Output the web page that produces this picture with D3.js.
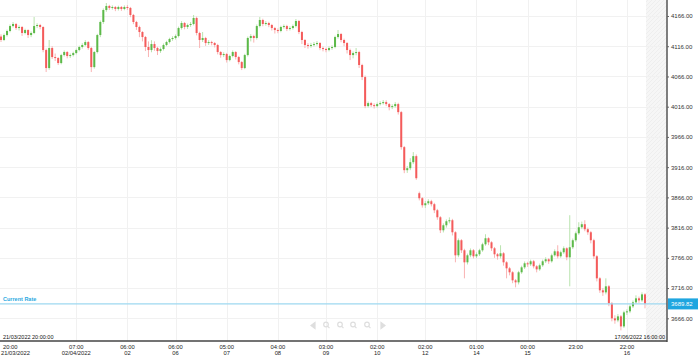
<!DOCTYPE html>
<html lang="en">
<head>
    <meta charset="UTF-8">
    <title>Candlestick Chart</title>
    <script src="https://cdn.jsdelivr.net/npm/d3@7/dist/d3.min.js"></script>
    <style>
        body { margin: 0; background: #fff; }
        text { font-family: "Liberation Sans", Arial, sans-serif; }
    </style>
</head>
<body>
<svg id="main" width="699" height="356"></svg>
<script>
    // candle data (index order)
    const opens = [
        4132.0, 4126.3, 4134.5, 4141.2, 4149.4, 4152.8, 4146.1, 4147.8, 4137.9, 4142.8,
        4134.5, 4137.9, 4149.4, 4151.1, 4147.8, 4109.7, 4079.9, 4113.0, 4098.1, 4096.5,
        4088.2, 4101.4, 4106.4, 4099.8, 4101.4, 4104.7, 4109.7, 4114.7, 4118.0, 4122.9,
        4113.0, 4081.5, 4106.4, 4134.5, 4156.1, 4175.9, 4182.6, 4179.3, 4180.9, 4177.6,
        4180.9, 4177.6, 4180.9, 4179.3, 4167.7, 4156.1, 4147.8, 4139.5, 4131.2, 4114.7,
        4109.7, 4119.6, 4113.0, 4108.0, 4111.4, 4118.0, 4122.9, 4127.9, 4129.6, 4132.9,
        4146.1, 4154.4, 4147.8, 4151.1, 4152.8, 4162.7, 4137.9, 4126.3, 4129.6, 4121.3,
        4122.9, 4121.3, 4118.0, 4106.4, 4101.4, 4103.1, 4093.1, 4099.8, 4106.4, 4098.1,
        4089.8, 4079.9, 4101.4, 4129.6, 4132.9, 4129.6, 4149.4, 4159.4, 4152.8, 4154.4,
        4151.1, 4146.1, 4142.8, 4141.2, 4147.8, 4149.4, 4144.5, 4146.1, 4149.4, 4157.7,
        4139.5, 4126.3, 4118.0, 4116.3, 4118.0, 4119.6, 4121.3, 4113.0, 4111.4, 4109.7,
        4113.0, 4114.7, 4131.2, 4136.2, 4126.3, 4121.3, 4109.7, 4101.4, 4104.7, 4106.4,
        4084.9, 4065.0, 4017.0, 4021.9, 4018.6, 4017.0, 4020.3, 4021.9, 4023.6, 4020.3,
        4015.3, 4017.0, 4020.3, 4007.0, 3949.1, 3911.0, 3914.3, 3924.2, 3934.2, 3872.9,
        3864.6, 3853.0, 3856.3, 3859.6, 3854.7, 3844.7, 3833.1, 3811.6, 3819.9, 3826.5,
        3828.2, 3808.3, 3770.2, 3795.1, 3778.5, 3758.6, 3770.2, 3778.5, 3768.6, 3771.9,
        3778.5, 3788.4, 3798.4, 3791.7, 3781.8, 3771.9, 3768.6, 3773.5, 3758.6, 3748.7,
        3742.1, 3728.8, 3725.5, 3742.1, 3750.3, 3757.0, 3755.3, 3760.3, 3752.0, 3747.0,
        3753.7, 3760.3, 3763.6, 3760.3, 3770.2, 3776.8, 3768.6, 3775.2, 3781.8, 3766.9,
        3783.5, 3795.1, 3806.6, 3816.6, 3821.6, 3813.3, 3808.3, 3795.1, 3768.6, 3732.1,
        3712.3, 3708.9, 3718.9, 3690.7, 3665.9, 3662.6, 3669.2, 3652.6, 3675.8, 3677.5,
        3685.8, 3692.4, 3699.0, 3695.7, 3705.6];

    const highs = [
        4135.8, 4137.0, 4143.5, 4152.0, 4156.1, 4154.5, 4150.5, 4149.5, 4145.0, 4144.0,
        4140.5, 4164.4, 4154.0, 4153.0, 4149.0, 4112.0, 4126.3, 4116.0, 4104.0, 4098.0,
        4103.5, 4109.0, 4108.0, 4104.0, 4107.0, 4112.0, 4117.0, 4121.0, 4126.0, 4124.5,
        4115.0, 4108.0, 4136.5, 4158.5, 4178.5, 4187.5, 4184.5, 4183.5, 4182.5, 4183.0,
        4182.5, 4183.5, 4184.0, 4181.0, 4169.5, 4158.0, 4150.0, 4141.0, 4133.0, 4124.0,
        4126.0, 4124.0, 4115.0, 4114.0, 4120.5, 4125.0, 4130.0, 4132.5, 4135.5, 4148.5,
        4157.5, 4156.0, 4153.5, 4156.0, 4167.7, 4165.0, 4140.0, 4139.5, 4131.5, 4126.0,
        4125.0, 4123.0, 4120.0, 4108.0, 4106.0, 4105.0, 4102.0, 4109.0, 4108.0, 4100.0,
        4091.5, 4103.5, 4132.0, 4136.0, 4135.0, 4152.0, 4164.4, 4161.5, 4157.5, 4156.5,
        4153.0, 4148.0, 4145.5, 4150.0, 4152.0, 4151.5, 4149.0, 4152.0, 4161.0, 4159.5,
        4141.5, 4128.0, 4121.0, 4121.5, 4123.0, 4124.5, 4123.0, 4115.5, 4113.5, 4116.0,
        4117.5, 4133.5, 4142.8, 4138.0, 4128.5, 4123.0, 4112.0, 4107.5, 4113.0, 4108.5,
        4087.0, 4067.5, 4024.5, 4024.0, 4021.5, 4023.0, 4025.0, 4027.0, 4026.5, 4022.0,
        4020.0, 4023.5, 4022.5, 4009.0, 3951.0, 3918.0, 3930.8, 3940.9, 3937.0, 3875.5,
        3866.5, 3860.0, 3863.0, 3862.0, 3857.0, 3847.0, 3835.0, 3823.0, 3829.5, 3833.0,
        3830.5, 3810.0, 3798.0, 3797.0, 3781.0, 3773.0, 3781.5, 3780.5, 3775.0, 3781.0,
        3791.0, 3805.0, 3800.0, 3793.5, 3784.0, 3774.0, 3786.8, 3775.5, 3760.5, 3751.0,
        3744.0, 3731.0, 3744.5, 3753.0, 3760.0, 3759.5, 3763.0, 3762.5, 3754.0, 3756.5,
        3763.0, 3767.0, 3765.5, 3773.0, 3780.0, 3786.8, 3778.0, 3785.0, 3783.5, 3836.5,
        3798.0, 3809.5, 3824.9, 3826.0, 3828.2, 3816.0, 3810.5, 3797.5, 3770.5, 3734.0,
        3716.0, 3732.1, 3721.0, 3693.0, 3671.0, 3673.0, 3671.5, 3678.5, 3681.0, 3688.5,
        3695.5, 3704.0, 3702.0, 3709.0, 3707.5];

    const lows = [
        4123.0, 4124.5, 4132.0, 4139.0, 4147.0, 4143.0, 4142.0, 4133.0, 4135.5, 4129.6,
        4131.0, 4136.0, 4146.0, 4144.0, 4106.0, 4073.3, 4077.0, 4095.0, 4091.5, 4084.9,
        4086.0, 4099.0, 4096.0, 4096.5, 4099.0, 4102.5, 4107.5, 4112.0, 4116.0, 4110.0,
        4073.3, 4079.0, 4104.0, 4131.0, 4153.0, 4173.0, 4176.0, 4176.5, 4174.0, 4175.0,
        4174.5, 4175.5, 4176.0, 4164.0, 4152.5, 4143.0, 4131.0, 4124.0, 4108.0, 4098.1,
        4106.0, 4108.5, 4101.4, 4105.0, 4109.0, 4116.0, 4120.5, 4125.0, 4127.0, 4130.5,
        4143.5, 4144.0, 4144.5, 4148.0, 4150.5, 4134.0, 4113.0, 4123.0, 4116.5, 4118.0,
        4117.5, 4114.0, 4102.5, 4097.0, 4098.0, 4089.0, 4091.0, 4097.5, 4094.0, 4086.0,
        4076.6, 4078.0, 4099.0, 4124.0, 4122.0, 4127.0, 4147.0, 4149.0, 4150.0, 4147.5,
        4142.0, 4137.0, 4137.5, 4139.0, 4145.0, 4141.0, 4142.0, 4143.5, 4147.0, 4136.0,
        4119.6, 4113.0, 4112.0, 4113.5, 4115.5, 4117.0, 4109.5, 4107.5, 4106.0, 4107.5,
        4110.0, 4112.5, 4128.5, 4122.5, 4116.0, 4104.0, 4093.1, 4096.0, 4101.0, 4080.0,
        4060.0, 4013.5, 4014.5, 4015.5, 4013.0, 4014.5, 4018.0, 4019.5, 4017.0, 4010.0,
        4012.0, 4014.5, 4003.0, 3945.0, 3906.0, 3906.5, 3911.0, 3921.0, 3895.0, 3861.0,
        3849.0, 3848.5, 3853.5, 3851.0, 3840.0, 3829.0, 3807.0, 3808.0, 3816.0, 3823.0,
        3803.0, 3758.6, 3767.0, 3774.0, 3732.1, 3755.0, 3767.0, 3765.0, 3765.5, 3769.0,
        3776.0, 3786.0, 3787.0, 3777.5, 3766.0, 3763.0, 3765.0, 3753.0, 3732.1, 3737.0,
        3724.0, 3717.2, 3722.0, 3739.5, 3747.5, 3751.0, 3752.5, 3748.5, 3742.0, 3744.5,
        3751.0, 3757.5, 3756.0, 3758.0, 3768.0, 3765.0, 3766.0, 3772.5, 3762.0, 3718.9,
        3780.5, 3792.5, 3804.0, 3813.5, 3810.0, 3804.0, 3790.0, 3764.0, 3727.0, 3708.0,
        3703.0, 3705.5, 3686.0, 3661.0, 3657.0, 3659.5, 3646.0, 3650.0, 3671.5, 3674.5,
        3683.0, 3690.0, 3691.5, 3693.0, 3682.5];

    const closes = [
        4126.3, 4134.5, 4141.2, 4149.4, 4152.8, 4146.1, 4147.8, 4137.9, 4142.8, 4134.5,
        4137.9, 4149.4, 4151.1, 4147.8, 4109.7, 4079.9, 4113.0, 4098.1, 4096.5, 4088.2,
        4101.4, 4106.4, 4099.8, 4101.4, 4104.7, 4109.7, 4114.7, 4118.0, 4122.9, 4113.0,
        4081.5, 4106.4, 4134.5, 4156.1, 4175.9, 4182.6, 4179.3, 4180.9, 4177.6, 4180.9,
        4177.6, 4180.9, 4179.3, 4167.7, 4156.1, 4147.8, 4139.5, 4131.2, 4114.7, 4109.7,
        4119.6, 4113.0, 4108.0, 4111.4, 4118.0, 4122.9, 4127.9, 4129.6, 4132.9, 4146.1,
        4154.4, 4147.8, 4151.1, 4152.8, 4162.7, 4137.9, 4126.3, 4129.6, 4121.3, 4122.9,
        4121.3, 4118.0, 4106.4, 4101.4, 4103.1, 4093.1, 4099.8, 4106.4, 4098.1, 4089.8,
        4079.9, 4101.4, 4129.6, 4132.9, 4129.6, 4149.4, 4159.4, 4152.8, 4154.4, 4151.1,
        4146.1, 4142.8, 4141.2, 4147.8, 4149.4, 4144.5, 4146.1, 4149.4, 4157.7, 4139.5,
        4126.3, 4118.0, 4116.3, 4118.0, 4119.6, 4121.3, 4113.0, 4111.4, 4109.7, 4113.0,
        4114.7, 4131.2, 4136.2, 4126.3, 4121.3, 4109.7, 4101.4, 4104.7, 4106.4, 4084.9,
        4065.0, 4017.0, 4021.9, 4018.6, 4017.0, 4020.3, 4021.9, 4023.6, 4020.3, 4015.3,
        4017.0, 4020.3, 4007.0, 3949.1, 3911.0, 3914.3, 3924.2, 3934.2, 3897.7, 3864.6,
        3853.0, 3856.3, 3859.6, 3854.7, 3844.7, 3833.1, 3811.6, 3819.9, 3826.5, 3828.2,
        3808.3, 3770.2, 3795.1, 3778.5, 3758.6, 3770.2, 3778.5, 3768.6, 3771.9, 3778.5,
        3788.4, 3798.4, 3791.7, 3781.8, 3771.9, 3768.6, 3773.5, 3758.6, 3748.7, 3742.1,
        3728.8, 3725.5, 3742.1, 3750.3, 3757.0, 3755.3, 3760.3, 3752.0, 3747.0, 3753.7,
        3760.3, 3763.6, 3760.3, 3770.2, 3776.8, 3768.6, 3775.2, 3781.8, 3766.9, 3783.5,
        3795.1, 3806.6, 3816.6, 3821.6, 3813.3, 3808.3, 3795.1, 3768.6, 3732.1, 3712.3,
        3708.9, 3718.9, 3690.7, 3665.9, 3662.6, 3669.2, 3652.6, 3675.8, 3677.5, 3685.8,
        3692.4, 3699.0, 3695.7, 3705.6, 3689.82];

    // x axis: candle index of each tick, with hour and date lines
    const tickIndex = [0, 25, 42, 58, 75, 92, 108, 125, 141, 158, 175, 191, 208];
    const tickHour = ['20:00', '07:00', '06:00', '06:00', '05:00', '04:00', '03:00',
        '02:00', '02:00', '01:00', '00:00', '23:00', '22:00'];
    const tickDate = ['21/03/2022', '02/04/2022', '02', '06', '07', '08', '09',
        '10', '12', '14', '15', '', '16'];

    const priceTicks = [3666, 3716, 3766, 3816, 3866, 3916, 3966, 4016, 4066, 4116, 4166];
    const currentRate = 3689.82;
    const startStamp = '21/03/2022 20:00:00';
    const endStamp = '17/06/2022 16:00:00';

    const upColor = '#5cb949', downColor = '#f45b5b';
    const upWick = '#b9e3ae', downWick = '#f9b3b3';

    let svg = d3.select('svg#main');
    let plotRight = 667;    // price axis line
    let plotBottom = 341;   // time axis line
    let dataRight = 646;    // where the candles stop

    let data = closes.map((c, i) => ({i: i, o: opens[i], h: highs[i], l: lows[i], c: c}));

    let xScale = d3.scaleBand()
        .domain(data.map(d => d.i))
        .range([0, dataRight])
        .paddingInner(0.33);
    let yScale = d3.scaleLinear()
        .domain([3666, 4166])
        .range([318.3, 16]);

    // hatched empty area to the right of the last candle
    let defs = svg.append('defs');
    let pat = defs.append('pattern')
        .attr('id', 'hatch')
        .attr('patternUnits', 'userSpaceOnUse')
        .attr('width', 4).attr('height', 4);
    pat.append('rect').attr('width', 4).attr('height', 4).attr('fill', '#f6f6f6');
    pat.append('path').attr('d', 'M0,4 L4,0').attr('stroke', '#ececec').attr('stroke-width', 0.8);

    svg.append('rect')
        .attr('x', dataRight).attr('y', 0)
        .attr('width', plotRight - dataRight).attr('height', plotBottom)
        .attr('fill', 'url(#hatch)');

    // grid
    svg.append('g')
        .selectAll('line')
        .data(priceTicks)
        .enter().append('line')
        .attr('x1', 0).attr('x2', plotRight)
        .attr('y1', d => Math.round(yScale(d)) + 0.5)
        .attr('y2', d => Math.round(yScale(d)) + 0.5)
        .attr('stroke', '#f1f1f1');

    svg.append('g')
        .selectAll('line')
        .data(tickIndex.slice(1))
        .enter().append('line')
        .attr('x1', d => Math.round(xScale(d) + xScale.bandwidth() / 2) + 0.5)
        .attr('x2', d => Math.round(xScale(d) + xScale.bandwidth() / 2) + 0.5)
        .attr('y1', 0).attr('y2', plotBottom)
        .attr('stroke', '#f1f1f1');

    // candles
    let candles = svg.append('g')
        .selectAll('g')
        .data(data)
        .enter().append('g');

    candles.append('line')
        .attr('x1', d => xScale(d.i) + xScale.bandwidth() / 2)
        .attr('x2', d => xScale(d.i) + xScale.bandwidth() / 2)
        .attr('y1', d => yScale(d.h))
        .attr('y2', d => yScale(d.l))
        .attr('stroke', d => d.c >= d.o ? upWick : downWick)
        .attr('stroke-width', 1);

    candles.append('rect')
        .attr('x', d => xScale(d.i))
        .attr('width', xScale.bandwidth())
        .attr('y', d => yScale(Math.max(d.o, d.c)))
        .attr('height', d => Math.max(1, Math.abs(yScale(d.o) - yScale(d.c))))
        .attr('fill', d => d.c >= d.o ? upColor : downColor);

    // current rate line
    svg.append('line')
        .attr('x1', 0).attr('x2', plotRight)
        .attr('y1', yScale(currentRate)).attr('y2', yScale(currentRate))
        .attr('stroke', '#9ed8f0').attr('stroke-width', 1.3);
    svg.append('text')
        .attr('x', 3).attr('y', yScale(currentRate) - 2.5)
        .attr('font-size', 5.5).attr('font-weight', 'bold')
        .attr('fill', '#2ba9e1')
        .text('Current Rate');

    // faint navigation icons
    let nav = svg.append('g').attr('fill', 'none').attr('stroke', '#dedede').attr('stroke-width', 1.2);
    nav.append('path').attr('d', 'M315,322.5 L311,325.5 L315,328.5 Z').attr('fill', '#dedede');
    [327, 341, 354, 368].forEach(cx => {
        nav.append('circle').attr('cx', cx - 1).attr('cy', 324.5).attr('r', 2.3);
        nav.append('line').attr('x1', cx + 0.8).attr('y1', 326.3).attr('x2', cx + 2.5).attr('y2', 328.2);
    });
    nav.append('path').attr('d', 'M381,322.5 L385,325.5 L381,328.5 Z').attr('fill', '#dedede');

    // axes lines
    svg.append('line')
        .attr('x1', plotRight).attr('x2', plotRight)
        .attr('y1', 0).attr('y2', plotBottom + 1)
        .attr('stroke', '#555').attr('stroke-width', 1.5);
    svg.append('line')
        .attr('x1', 0).attr('x2', plotRight)
        .attr('y1', plotBottom).attr('y2', plotBottom)
        .attr('stroke', '#444').attr('stroke-width', 1.6);

    // price axis
    let yAxis = d3.axisRight(yScale)
        .tickValues(priceTicks)
        .tickSize(2)
        .tickFormat(d3.format('.2f'));
    let yg = svg.append('g')
        .attr('transform', 'translate(' + plotRight + ',0)')
        .call(yAxis);
    yg.select('.domain').remove();
    yg.selectAll('line').attr('stroke', '#666');
    yg.selectAll('text')
        .attr('x', 4)
        .attr('font-size', 6)
        .attr('fill', '#333')
        .style('font-family', '"Liberation Sans", Arial, sans-serif');

    // current rate badge
    svg.append('rect')
        .attr('x', plotRight + 1).attr('y', yScale(currentRate) - 5.5)
        .attr('width', 30).attr('height', 11)
        .attr('fill', '#1fa6e0');
    svg.append('text')
        .attr('x', plotRight + 4).attr('y', yScale(currentRate) + 2.2)
        .attr('font-size', 6).attr('fill', '#fff')
        .text(currentRate.toFixed(2));

    // time axis labels
    let xl = svg.append('g').attr('font-size', 5.8).attr('fill', '#222');
    tickIndex.forEach((idx, k) => {
        let cx = k === 0 ? 1 : xScale(idx) + xScale.bandwidth() / 2;
        let anchor = k === 0 ? 'start' : 'middle';
        xl.append('text')
            .attr('x', k === 0 ? 3 : cx).attr('y', 348.5)
            .attr('text-anchor', anchor)
            .text(tickHour[k]);
        xl.append('text')
            .attr('x', cx).attr('y', 354.5)
            .attr('text-anchor', anchor)
            .text(tickDate[k]);
    });

    // range stamps
    svg.append('text')
        .attr('x', 3).attr('y', 339)
        .attr('font-size', 5.5).attr('fill', '#111')
        .text(startStamp);
    svg.append('text')
        .attr('x', plotRight - 2).attr('y', 339)
        .attr('text-anchor', 'end')
        .attr('font-size', 5.5).attr('fill', '#111')
        .text(endStamp);
</script>
</body>
</html>
